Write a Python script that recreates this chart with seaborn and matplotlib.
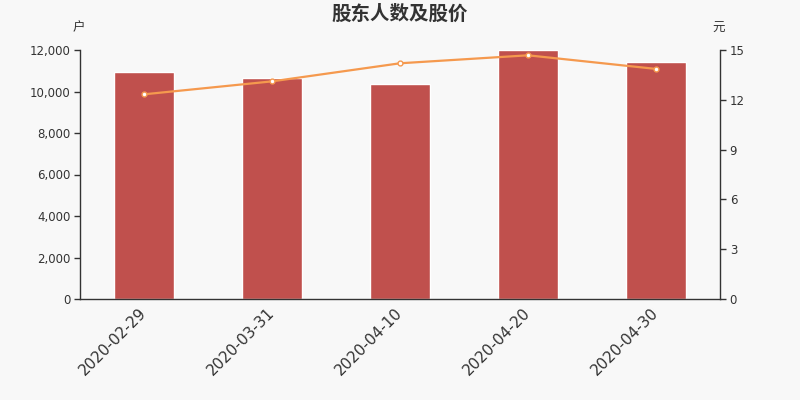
import matplotlib
matplotlib.use("Agg")
import matplotlib.pyplot as plt
from matplotlib.ticker import FuncFormatter, MultipleLocator
import numpy as np
import pandas as pd
import seaborn as sns

# data
dates = ["2020-02-29", "2020-03-31", "2020-04-10", "2020-04-20", "2020-04-30"]
holders = [10920, 10650, 10360, 11990, 11440]
price = [12.33, 13.11, 14.20, 14.68, 13.86]

sns.set_theme(style="white")
plt.rcParams["font.family"] = ["DejaVu Sans", "Noto Sans CJK SC"]

bg = "#f8f8f8"
txt = "#333333"
cjk = ["Noto Sans CJK SC", "DejaVu Sans"]

df = pd.DataFrame({"date": dates, "holders": holders, "price": price})

fig = plt.figure(figsize=(8, 4), dpi=100, facecolor=bg)
ax = fig.add_axes([0.1, 0.2525, 0.8, 0.6225])
ax.set_facecolor(bg)

sns.barplot(data=df, x="date", y="holders", color="#c0504d", saturation=1,
            width=0.47, ax=ax)
ax.set_xlim(-0.5, len(dates) - 0.5)
ax.set_ylim(0, 12000)
ax.yaxis.set_major_locator(MultipleLocator(2000))
ax.yaxis.set_major_formatter(FuncFormatter(lambda v, p: f"{int(v):,}"))

ax2 = ax.twinx()
sns.lineplot(data=df, x="date", y="price", color="#f5994e", linewidth=1.6,
             marker="o", markersize=3.5, markerfacecolor="white",
             markeredgecolor="#f5994e", markeredgewidth=1, ax=ax2)
ax2.set_ylim(0, 15)
ax2.yaxis.set_major_locator(MultipleLocator(3))
ax2.set_xlim(-0.5, len(dates) - 0.5)

for a in (ax, ax2):
    a.set_xlabel("")
    a.set_ylabel("")
    a.spines["top"].set_visible(False)
    for s in ("left", "right", "bottom"):
        a.spines[s].set_color(txt)
        a.spines[s].set_linewidth(1)
    a.tick_params(axis="y", labelsize=8.5, colors=txt, length=4, width=1, pad=3)
    a.grid(False)

ax2.spines["left"].set_visible(False)
ax.spines["right"].set_visible(False)
ax2.spines["bottom"].set_visible(False)
ax.tick_params(axis="y", left=True)
ax2.tick_params(axis="y", right=True)

# x ticks at category boundaries, labels centred on categories
ax.set_xticks(np.arange(-0.5, len(dates), 1))
ax.set_xticklabels([])
ax.tick_params(axis="x", bottom=True, length=5, width=1, colors=txt)
ax.set_xticks(np.arange(len(dates)), minor=True)
ax.set_xticklabels(dates, minor=True, rotation=45, ha="right", va="center",
                   rotation_mode="anchor", fontsize=11, color=txt)
ax.tick_params(axis="x", which="minor", length=0, pad=8)
ax2.set_xticks([])

fig.text(0.5, 0.965, "股东人数及股价", ha="center", va="center",
         fontsize=14, fontweight="bold", color=txt, family=cjk)
fig.text(0.098, 0.93, "户", ha="center", va="center", fontsize=9, color=txt,
         family=cjk)
fig.text(0.898, 0.93, "元", ha="center", va="center", fontsize=9, color=txt,
         family=cjk)

fig.savefig("out.png", dpi=100, facecolor=bg)
